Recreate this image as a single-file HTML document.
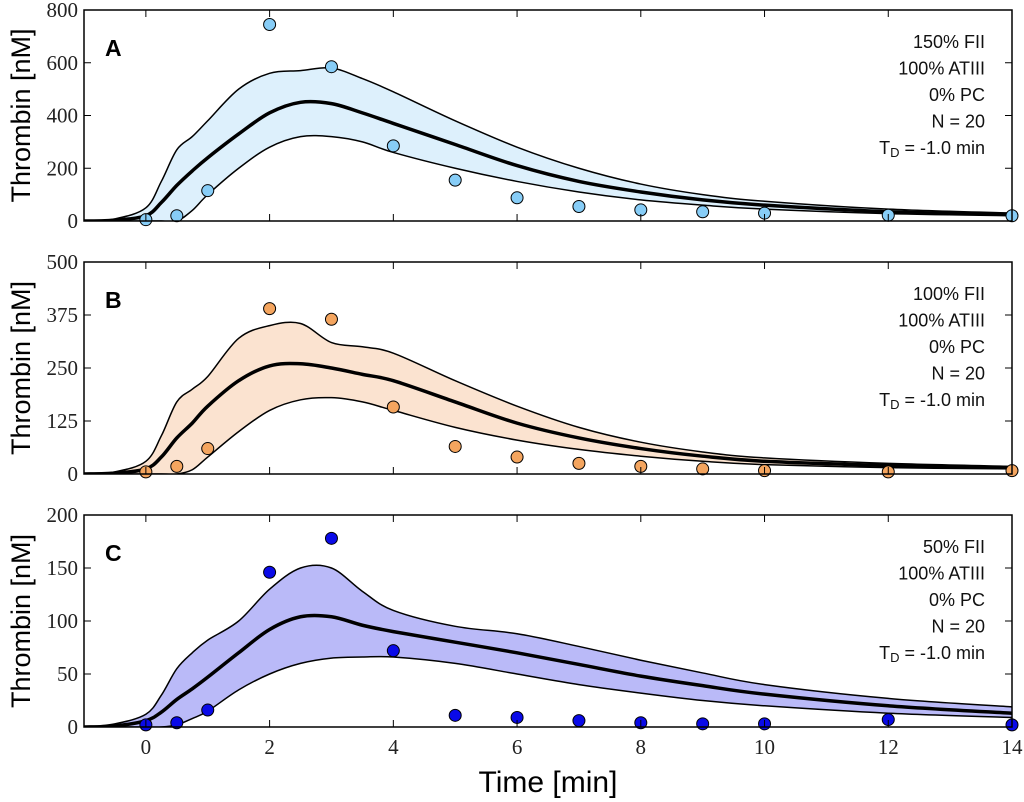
<!DOCTYPE html>
<html><head><meta charset="utf-8"><style>
body{margin:0;background:#fff}
svg{display:block}
.tk{font-family:"Liberation Serif",serif;font-size:21px;fill:#222}
.lg{font-family:"Liberation Sans",sans-serif;font-size:18px;fill:#111}
</style></head><body>
<svg id="c" width="1024" height="802"></svg>
<script>
const times=[-1,-0.5,0,0.25,0.5,0.75,1,1.5,2,2.5,3,3.5,4,5,6,7,8,9,10,12,14];
const meanA=[0,3,20,70,135,190,240,330,410,450,445,410,370,290,210,150,110,80,60,35,25];
const upperA=[0,8,50,150,270,320,380,500,560,570,580,540,490,380,280,200,140,100,75,45,30];
const lowerA=[0,0,0,0,0,40,100,200,280,320,320,300,260,200,150,110,80,60,45,28,20];
const meanB=[0,2,12,40,85,120,160,220,255,260,250,235,220,170,120,85,60,42,30,20,15];
const upperB=[0,5,30,90,170,200,230,320,350,355,310,300,285,220,160,110,75,52,38,25,18];
const lowerB=[0,0,0,0,0,10,40,100,150,175,180,170,150,110,80,58,42,30,22,15,12];
const meanC=[0,1,6,14,26,36,47,70,92,104,104,96,90,80,70,59,48,39,31,20,13];
const upperC=[0,3,12,30,55,70,82,100,130,150,150,128,110,95,88,76,63,51,40,27,19];
const lowerC=[0,0,0,0,2,8,15,35,50,60,65,66,66,60,50,40,32,25,20,13,9];
const ptX=[0,0.5,1,2,3,4,5,6,7,8,9,10,12,14];
const ptA=[5,20,115,745,585,285,155,88,55,42,35,30,22,20];
const ptB=[5,18,60,390,365,158,65,40,25,18,12,8,5,8];
const ptC=[2,4,16,146,178,72,11,9,6,4,3,3,7,2];
const xTicks=[0,2,4,6,8,10,12,14];
const ticksA=[0,200,400,600,800],ticksB=[0,125,250,375,500],ticksC=[0,50,100,150,200];
const legA=["150% FII","100% ATIII","0% PC","N = 20"],legB=["100% FII","100% ATIII","0% PC","N = 20"],legC=["50% FII","100% ATIII","0% PC","N = 20"];

const NS="http://www.w3.org/2000/svg",svg=document.getElementById('c');
const L=84,R=1012;
const xs=v=>L+(v+1)/15*(R-L);
function mk(t,a,p){const e=document.createElementNS(NS,t);for(const k in a)e.setAttribute(k,a[k]);(p||svg).appendChild(e);return e;}
function smooth(pts){let d="M"+pts[0][0]+","+pts[0][1];for(let i=0;i<pts.length-1;i++){const p0=pts[Math.max(0,i-1)],p1=pts[i],p2=pts[i+1],p3=pts[Math.min(pts.length-1,i+2)];d+=` C${p1[0]+(p2[0]-p0[0])/6},${p1[1]+(p2[1]-p0[1])/6} ${p2[0]-(p3[0]-p1[0])/6},${p2[1]-(p3[1]-p1[1])/6} ${p2[0]},${p2[1]}`;}return d;}
const panels=[
 {n:'a',top:10,bot:221,max:800,mean:meanA,up:upperA,lo:lowerA,pts:ptA,ticks:ticksA,leg:legA,fill:'#ddf0fc',pc:'#87cdf7',lab:'A'},
 {n:'b',top:262,bot:474,max:500,mean:meanB,up:upperB,lo:lowerB,pts:ptB,ticks:ticksB,leg:legB,fill:'#fbe3d0',pc:'#f4a55f',lab:'B'},
 {n:'c',top:515,bot:727,max:200,mean:meanC,up:upperC,lo:lowerC,pts:ptC,ticks:ticksC,leg:legC,fill:'#babaf8',pc:'#0a0ae8',lab:'C'}];
panels.forEach((P,pi)=>{
 const g=mk('g',{});
 
 
 const ys=v=>P.bot-v/P.max*(P.bot-P.top);
 const cp=mk('clipPath',{id:'cp'+pi},g);mk('rect',{x:L,y:P.top,width:R-L,height:P.bot-P.top},cp);
 const up=times.map((t,i)=>[xs(t),ys(P.up[i])]),lo=times.map((t,i)=>[xs(t),ys(P.lo[i])]);
 const band=mk('path',{d:smooth(up)+" L"+smooth(lo.slice().reverse()).slice(1)+"Z",fill:P.fill,stroke:'none','clip-path':`url(#cp${pi})`},g);
 
 const u=mk('path',{d:smooth(up),fill:'none',stroke:'#000','stroke-width':1.5,'clip-path':`url(#cp${pi})`},g);
 
 const l=mk('path',{d:smooth(lo),fill:'none',stroke:'#000','stroke-width':1.5,'clip-path':`url(#cp${pi})`},g);
 
 const m=mk('path',{d:smooth(times.map((t,i)=>[xs(t),ys(P.mean[i])])),fill:'none',stroke:'#000','stroke-width':3.5,'clip-path':`url(#cp${pi})`},g);
 
 ptX.forEach((t,i)=>{const c=mk('circle',{cx:xs(t),cy:ys(P.pts[i]),r:6,fill:P.pc,stroke:'#000','stroke-width':1},g);
  });
 const fr=mk('rect',{x:L,y:P.top,width:R-L,height:P.bot-P.top,fill:'none',stroke:'#000','stroke-width':1.5},g);
 
 xTicks.forEach(t=>{mk('line',{x1:xs(t),x2:xs(t),y1:P.bot,y2:P.bot-7,stroke:'#000'},g);mk('line',{x1:xs(t),x2:xs(t),y1:P.top,y2:P.top+7,stroke:'#000'},g);
  if(pi==2){const tx=mk('text',{x:xs(t),y:P.bot+27,'text-anchor':'middle',class:'tk'},g);tx.textContent=t;
   }});
 P.ticks.forEach(v=>{mk('line',{x1:L,x2:L+7,y1:ys(v),y2:ys(v),stroke:'#000'},g);mk('line',{x1:R,x2:R-7,y1:ys(v),y2:ys(v),stroke:'#000'},g);
  const tx=mk('text',{x:L-6,y:ys(v)+7,'text-anchor':'end',class:'tk'},g);tx.textContent=v;
  });
 const lb=mk('text',{x:105,y:P.top+46,style:'font-family:"Liberation Sans",sans-serif;font-weight:bold;font-size:23px'},g);lb.textContent=P.lab;
 
 P.leg.concat(['']).forEach((s,i)=>{const tx=mk('text',{x:985,y:P.top+38+i*26.5,'text-anchor':'end',class:'lg'},g);
  if(i<4)tx.textContent=s;else tx.innerHTML='T<tspan font-size="13" dy="3">D</tspan><tspan dy="-3"> = -1.0 min</tspan>';
  });
 const yl=mk('text',{transform:`translate(30,${(P.top+P.bot)/2}) rotate(-90)`,'text-anchor':'middle',style:'font-family:"Liberation Sans",sans-serif;font-size:27px'},g);
 yl.textContent='Thrombin [nM]';
});
const xl=mk('text',{x:548,y:792,'text-anchor':'middle',style:'font-family:"Liberation Sans",sans-serif;font-size:30px'});
xl.textContent='Time [min]';
</script></body></html>
